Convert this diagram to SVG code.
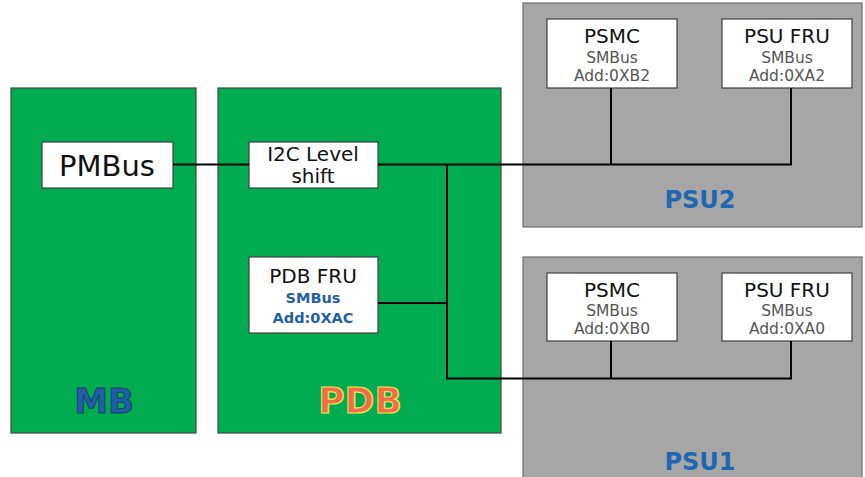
<svg xmlns="http://www.w3.org/2000/svg" width="865" height="477" viewBox="0 0 865 477">
<style>
.board{fill:#00ac4f;stroke:#3a4a3a;stroke-width:1.2}
.psu{fill:#a6a6a6;stroke:#6e6e6e;stroke-width:1.2}
.box{fill:#ffffff;stroke:#404040;stroke-width:1.2}
text{font-family:"DejaVu Sans","Verdana",sans-serif;text-anchor:middle}
.t20{font-size:20px;fill:#111}
.sm{font-size:15.5px;fill:#555}
.smb{font-size:14.5px;font-weight:bold;fill:#1f5fa8}
.psul{font-size:24px;font-weight:bold;fill:#1f66b3}
.wire{fill:none;stroke:#000;stroke-width:2}
</style>
<rect width="865" height="477" fill="#ffffff"/>
<g id="MB">
<rect class="board" x="11" y="88" width="185" height="345"/>
<text x="104" y="413" style="font-size:34px;font-weight:bold;fill:#1f5fa8;stroke:#17416f;stroke-width:1">MB</text>
</g>
<g id="PMBus">
<rect class="box" x="42" y="142" width="131" height="46"/>
<text x="107" y="176" style="font-size:29px;fill:#111">PMBus</text>
</g>
<g id="PDB">
<rect class="board" x="218" y="88" width="283" height="345"/>
<text x="360" y="413" style="font-size:36px;font-weight:bold;fill:#f26b4b;stroke:#f2e24a;stroke-width:1.2">PDB</text>
</g>
<g id="I2C">
<rect class="box" x="249" y="142" width="129" height="46"/>
<text class="t20" x="313" y="161">I2C Level</text>
<text class="t20" x="313" y="183">shift</text>
</g>
<g id="PDBFRU">
<rect class="box" x="249" y="257" width="129" height="76"/>
<text class="t20" x="313" y="283">PDB FRU</text>
<text class="smb" x="313" y="303">SMBus</text>
<text class="smb" x="313" y="323">Add:0XAC</text>
</g>
<g id="PSU2">
<rect class="psu" x="523" y="3" width="339" height="224"/>
<text class="psul" x="700" y="208">PSU2</text>
</g>
<g id="PSU2_PSMC">
<rect class="box" x="547" y="19" width="130" height="69"/>
<text class="t20" x="612" y="43">PSMC</text>
<text class="sm" x="612" y="63">SMBus</text>
<text class="sm" x="612" y="81">Add:0XB2</text>
</g>
<g id="PSU2_FRU">
<rect class="box" x="722" y="19" width="130" height="69"/>
<text class="t20" x="787" y="43">PSU FRU</text>
<text class="sm" x="787" y="63">SMBus</text>
<text class="sm" x="787" y="81">Add:0XA2</text>
</g>
<g id="PSU1">
<rect class="psu" x="523" y="257" width="339" height="230"/>
<text class="psul" x="700" y="470">PSU1</text>
</g>
<g id="PSU1_PSMC">
<rect class="box" x="547" y="273" width="130" height="68"/>
<text class="t20" x="612" y="297">PSMC</text>
<text class="sm" x="612" y="316">SMBus</text>
<text class="sm" x="612" y="334">Add:0XB0</text>
</g>
<g id="PSU1_FRU">
<rect class="box" x="722" y="273" width="130" height="68"/>
<text class="t20" x="787" y="297">PSU FRU</text>
<text class="sm" x="787" y="316">SMBus</text>
<text class="sm" x="787" y="334">Add:0XA0</text>
</g>
<g id="connectors">
<path class="wire" d="M173 164.5H249"/>
<path class="wire" d="M378 164.5H791V88"/>
<path class="wire" d="M611 88V164.5"/>
<path class="wire" d="M447 164.5V378.5H791V341"/>
<path class="wire" d="M611 341V378.5"/>
<path class="wire" d="M378 303H447"/>
</g>
</svg>
